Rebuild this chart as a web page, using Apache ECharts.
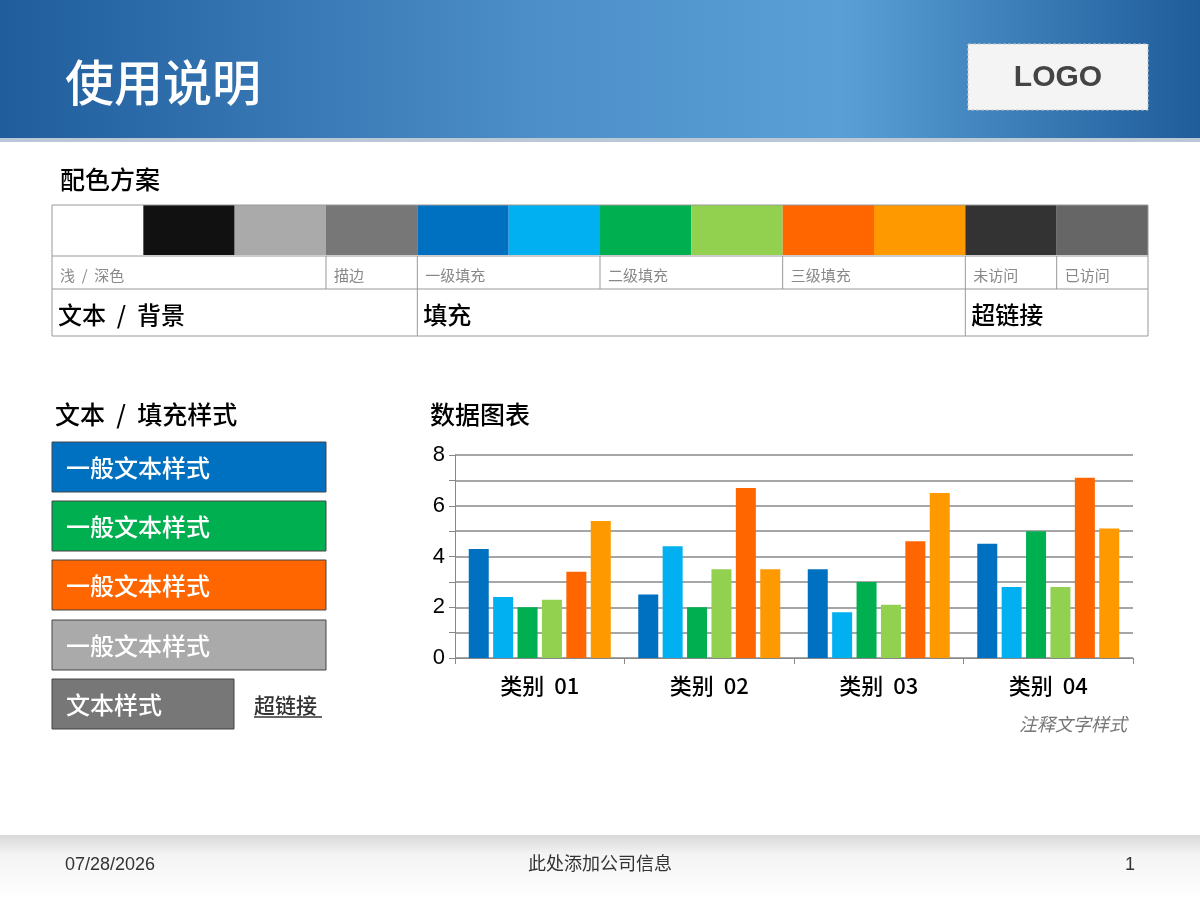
<!DOCTYPE html>
<html><head><meta charset="utf-8">
<script src="https://cdn.jsdelivr.net/npm/echarts@6/dist/echarts.min.js"></script>
<style>html,body{margin:0;padding:0;background:#fff}#c{width:1200px;height:900px}</style>
</head><body><div id="c"></div>
<script>
// 数据
const categorias = ['类别  01', '类别  02', '类别  03', '类别  04'];
const serie1 = [4.3, 2.5, 3.5, 4.5];
const serie2 = [2.4, 4.4, 1.8, 2.8];
const serie3 = [2.0, 2.0, 3.0, 5.0];
const serie4 = [2.3, 3.5, 2.1, 2.8];
const serie5 = [3.4, 6.7, 4.6, 7.1];
const serie6 = [5.4, 3.5, 6.5, 5.1];
const coloresSerie = ['#0070c0', '#00b0f0', '#00b050', '#92d050', '#ff6600', '#ff9900'];
const paleta = ['#ffffff', '#111111', '#aaaaaa', '#777777', '#0070c0', '#00b0f0', '#00b050', '#92d050', '#ff6600', '#ff9900', '#333333', '#666666'];

const CJK = '"Noto Sans CJK SC", "Liberation Sans", sans-serif';
const chart = echarts.init(document.getElementById('c'));

const g = [];
// cabecera
g.push({ type: 'rect', shape: { x: 0, y: 0, width: 1200, height: 138 },
  style: { fill: new echarts.graphic.LinearGradient(0, 0, 1, 0, [
    { offset: 0, color: '#1f5d9c' }, { offset: 0.45, color: '#4d8fc9' },
    { offset: 0.7, color: '#5aa0d6' }, { offset: 1, color: '#1e5c9a' }]) } });
g.push({ type: 'rect', shape: { x: 0, y: 138, width: 1200, height: 4 }, style: { fill: '#b9c7d6' } });
g.push({ type: 'text', left: 65, top: 58, style: { text: '使用说明', fill: '#fff', font: '500 49px ' + CJK } });
g.push({ type: 'rect', shape: { x: 968, y: 44, width: 180, height: 66 },
  style: { fill: '#f4f4f4', stroke: '#c8c8c8', lineDash: [3, 2] } });
g.push({ type: 'text', x: 1058, y: 78, style: { text: 'LOGO', fill: '#444', font: 'bold 30px "Liberation Sans"', align: 'center', verticalAlign: 'middle' } });

// tabla de colores
g.push({ type: 'text', left: 60, top: 167, style: { text: '配色方案', fill: '#000', font: '500 25px ' + CJK } });
const cw = 1096 / 12;
paleta.forEach((c, i) => g.push({ type: 'rect', shape: { x: 52 + i * cw, y: 205, width: cw, height: 50 }, style: { fill: c } }));
g.push({ type: 'rect', shape: { x: 52, y: 205, width: 1096, height: 131 }, style: { fill: 'none', stroke: '#999', lineWidth: 1 } });
g.push({ type: 'line', shape: { x1: 52, y1: 256, x2: 1148, y2: 256 }, style: { stroke: '#999' } });
g.push({ type: 'line', shape: { x1: 52, y1: 289, x2: 1148, y2: 289 }, style: { stroke: '#999' } });
[3, 4, 6, 8, 10, 11].forEach(i => g.push({ type: 'line', shape: { x1: 52 + i * cw, y1: 256, x2: 52 + i * cw, y2: 289 }, style: { stroke: '#999' } }));
[4, 10].forEach(i => g.push({ type: 'line', shape: { x1: 52 + i * cw, y1: 289, x2: 52 + i * cw, y2: 336 }, style: { stroke: '#999' } }));
[['浅  /  深色', 0], ['描边', 3], ['一级填充', 4], ['二级填充', 6], ['三级填充', 8], ['未访问', 10], ['已访问', 11]].forEach(([t, i]) =>
  g.push({ type: 'text', x: 60 + i * cw, y: 275, style: { text: t, fill: '#888', font: '15px ' + CJK, verticalAlign: 'middle' } }));
[['文本  /  背景', 0], ['填充', 4], ['超链接', 10]].forEach(([t, i]) =>
  g.push({ type: 'text', x: 58 + i * cw, y: 315, style: { text: t, fill: '#000', font: '500 24px ' + CJK, verticalAlign: 'middle' } }));

// estilos de texto
g.push({ type: 'text', left: 55, top: 402, style: { text: '文本  /  填充样式', fill: '#000', font: '500 25px ' + CJK } });
[['#0070c0', 442, 274], ['#00b050', 501, 274], ['#ff6600', 560, 274], ['#aaaaaa', 620, 274], ['#777777', 679, 182]].forEach(([c, y, w], i) => {
  g.push({ type: 'rect', shape: { x: 52, y: y, width: w, height: 50 }, style: { fill: c, stroke: '#444', lineWidth: 1 } });
  g.push({ type: 'text', x: 66, y: y + 26, style: { text: i === 4 ? '文本样式' : '一般文本样式', fill: '#fff', font: '500 24px ' + CJK, verticalAlign: 'middle' } });
});
g.push({ type: 'text', x: 254, y: 705, style: { text: '超链接', fill: '#333', font: '500 21px ' + CJK, verticalAlign: 'middle' } });
g.push({ type: 'line', shape: { x1: 254, y1: 717, x2: 322, y2: 717 }, style: { stroke: '#333', lineWidth: 1.5 } });

// gráfico
g.push({ type: 'text', left: 430, top: 402, style: { text: '数据图表', fill: '#000', font: '500 25px ' + CJK } });
g.push({ type: 'text', x: 1127, y: 724, style: { text: '注释文字样式', fill: '#777', font: 'italic 18px ' + CJK, align: 'right', verticalAlign: 'middle' } });

// pie de página
g.push({ type: 'rect', shape: { x: 0, y: 835, width: 1200, height: 65 },
  style: { fill: new echarts.graphic.LinearGradient(0, 0, 0, 1, [{ offset: 0, color: '#d9d9d9' }, { offset: 0.3, color: '#f4f4f4' }, { offset: 1, color: '#ffffff' }]) } });
g.push({ type: 'text', x: 65, y: 865, style: { text: '07/28/2026', fill: '#333', font: '18px "Liberation Sans"', verticalAlign: 'middle' } });
g.push({ type: 'text', x: 600, y: 863, style: { text: '此处添加公司信息', fill: '#333', font: '18px ' + CJK, align: 'center', verticalAlign: 'middle' } });
g.push({ type: 'text', x: 1135, y: 865, style: { text: '1', fill: '#333', font: '18px "Liberation Sans"', align: 'right', verticalAlign: 'middle' } });

const datos = [serie1, serie2, serie3, serie4, serie5, serie6];
chart.setOption({
  animation: false,
  graphic: g,
  grid: { left: 455, right: 67, top: 455, bottom: 242 },
  xAxis: {
    type: 'category', data: categorias,
    axisLine: { lineStyle: { color: '#888' } },
    axisTick: { show: true, length: 6, lineStyle: { color: '#888' } },
    axisLabel: { color: '#000', fontSize: 22, fontWeight: 500, fontFamily: CJK, margin: 17 }
  },
  yAxis: {
    type: 'value', min: 0, max: 8, interval: 1,
    axisLine: { show: true, lineStyle: { color: '#888' } },
    axisTick: { show: true, length: 6, lineStyle: { color: '#888' } },
    axisLabel: { color: '#000', fontSize: 22, fontFamily: 'Liberation Sans', margin: 10,
      formatter: v => (v % 2 === 0 ? String(v) : '') },
    splitLine: { lineStyle: { color: '#888', width: 1.5 } }
  },
  series: datos.map((d, i) => ({
    type: 'bar', data: d, barWidth: 20, barGap: '22%', barCategoryGap: '12%',
    itemStyle: { color: coloresSerie[i] }
  }))
});
</script></body></html>
